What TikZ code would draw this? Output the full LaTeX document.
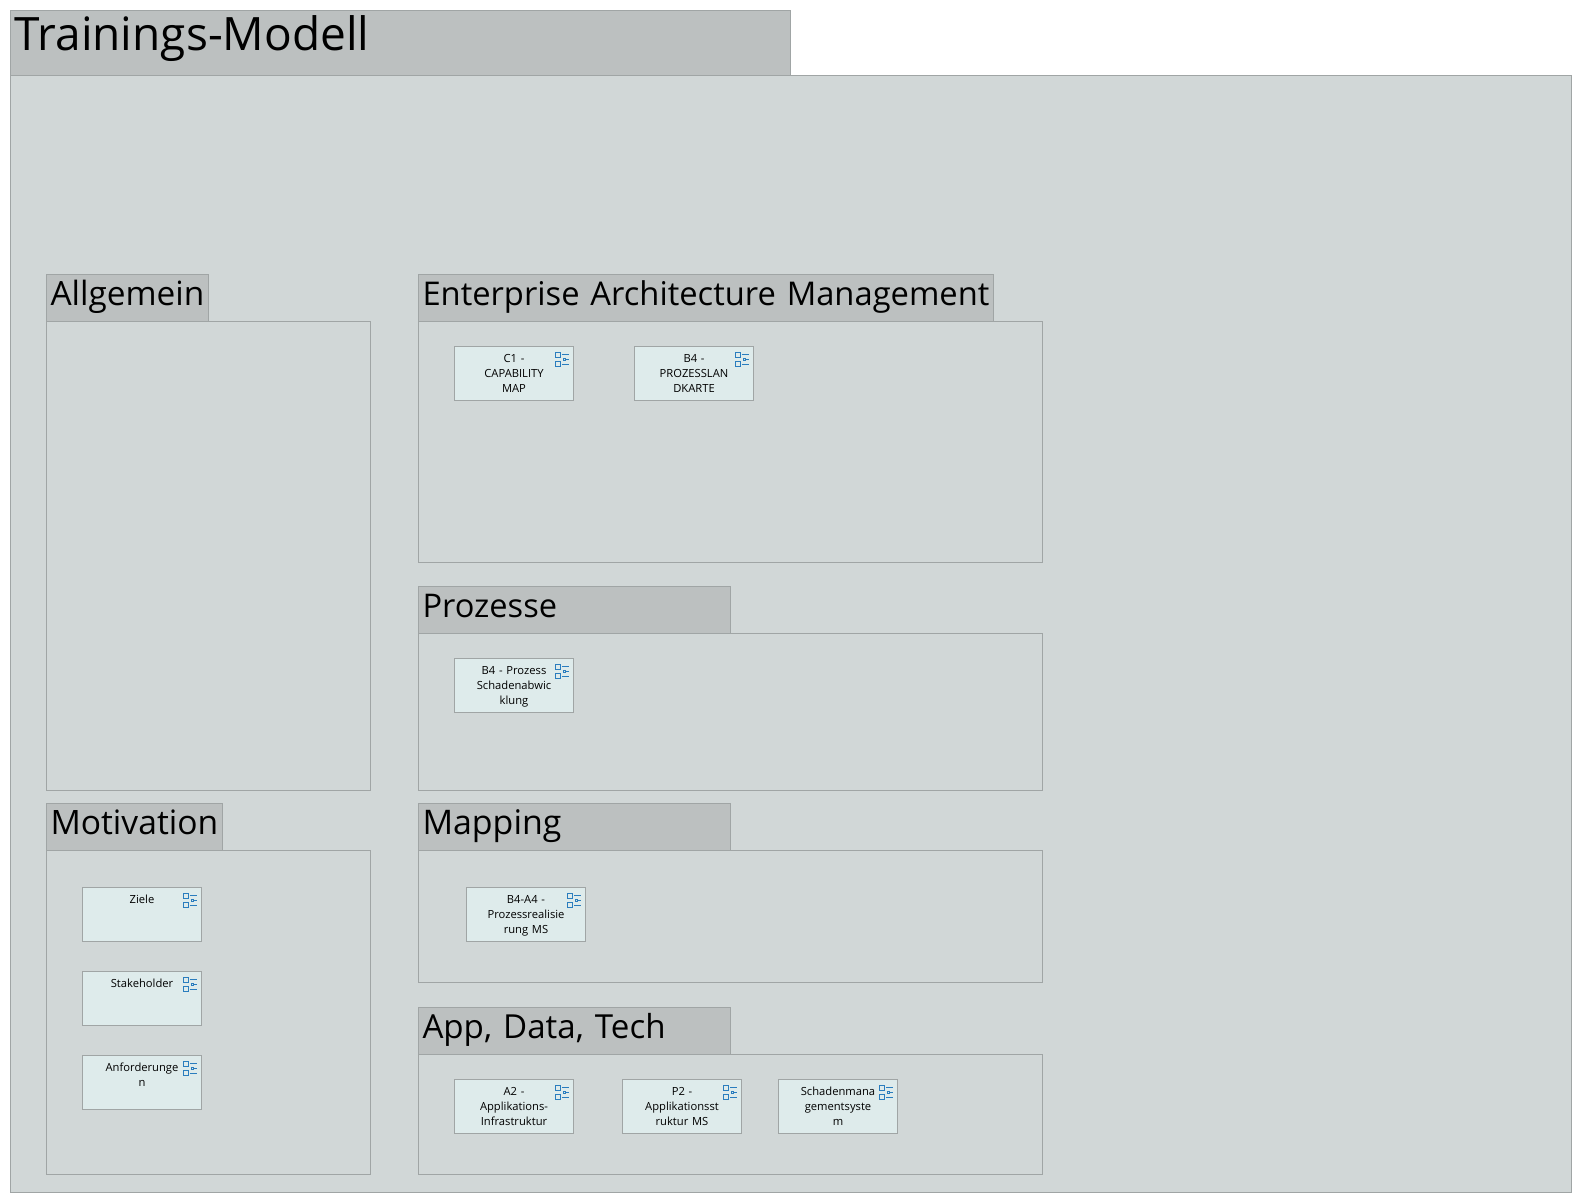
\documentclass[tikz,border=0pt]{standalone}
\usepackage{fontspec}
\setmainfont{Open Sans}
\definecolor{tabgrey}{HTML}{BCC0C0}
\definecolor{bodygrey}{HTML}{D1D7D7}
\definecolor{cardfill}{HTML}{DEEBEB}
\definecolor{edgegrey}{HTML}{A0A5A5}
\definecolor{iconblue}{HTML}{2A7DBE}
\newcommand{\titlefont}{\fontsize{46}{50}\selectfont}
\newcommand{\cardfont}{\fontsize{11.2}{15}\selectfont}
\tikzset{
  panel/.style={draw=edgegrey,line width=1pt,fill=bodygrey,anchor=north west,inner sep=0pt,outer sep=0pt},
  bodybox/.style 2 args={panel,minimum width=#1,minimum height=#2},
  tabsize/.style={font=\fontsize{#1}{38}\selectfont},
  tabbox/.style={panel,fill=tabgrey,inner xsep=4pt,inner ysep=0pt,align=left,text height=31pt,text depth=15.5pt,minimum height=46.5pt},
  tallertab/.style={text depth=16.5pt,minimum height=47.5pt},
  titlebox/.style={tabbox,font=\titlefont,text height=39.5pt,text depth=25pt,minimum height=64.5pt},
  card/.style={panel,fill=cardfill,minimum width=119pt,minimum height=54pt,text width=119pt,align=center,font=\cardfont,text height=16pt,text depth=38pt},
  icon/.pic={
    \begin{scope}[draw=iconblue,line width=0.9pt]
      \draw (-18,6) rectangle (-13,11);
      \draw (-18,15) rectangle (-13,20);
      \draw (-11.5,8) -- (-4.3,8);
      \draw (-10,12) rectangle (-7.8,14);
      \draw (-7.8,13) -- (-4.3,13);
      \draw (-11.5,18) -- (-4.3,18);
    \end{scope}
  }
}
\begin{document}
\begin{tikzpicture}[x=1pt,y=-1pt]
\useasboundingbox (0,0) rectangle (1582,1203);
\fill[white] (0,0) rectangle (1582,1203);
% outer frame
\node[bodybox={1560.5pt}{1117.5pt}] (main) at (10.5,75) {};
\node[titlebox,text width=771.5pt] (title) at (10.5,10.5) {\mbox{Trainings-Modell}};
% groups
\node[bodybox={324pt}{469pt}] (allgBody) at (46.5,321) {};
\node[tabbox,tabsize=33.4,text width=153.5pt] (allgTab) at (46.5,274.5) {\mbox{Allgemein}};
\node[bodybox={624pt}{241pt}] (eamBody) at (418.5,321) {};
\node[tabbox,tabsize=32.7,text width=567pt] (eamTab) at (418.5,274.5) {\mbox{Enterprise Architecture Management}};
\node[bodybox={624pt}{156.5pt}] (prozBody) at (418.5,633.5) {};
\node[tabbox,tallertab,tabsize=32.6,text width=304pt] (prozTab) at (418.5,586) {\mbox{Prozesse}};
\node[bodybox={324pt}{323.5pt}] (motBody) at (46.5,850.5) {};
\node[tabbox,tallertab,tabsize=33.6,text width=168pt] (motTab) at (46.5,803) {\mbox{Motivation}};
\node[bodybox={624pt}{132pt}] (mapBody) at (418.5,850.5) {};
\node[tabbox,tallertab,tabsize=33.9,text width=304pt] (mapTab) at (418.5,803) {\mbox{Mapping}};
\node[bodybox={624pt}{120pt}] (appBody) at (418.5,1054) {};
\node[tabbox,tabsize=33.1,text width=304pt] (appTab) at (418.5,1007.5) {\mbox{App, Data, Tech}};
% cards
\node[card] (c1) at (454.5,346.5) {C1 -\\CAPABILITY\\MAP};
\node[card] (b4a) at (634.5,346.5) {B4 -\\PROZESSLAN\\DKARTE};
\node[card] (b4b) at (454.5,658.5) {B4 - Prozess\\Schadenabwic\\klung};
\node[card] (ziele) at (82.5,887.5) {Ziele};
\node[card] (stake) at (82.5,971.5) {Stakeholder};
\node[card] (anf) at (82.5,1055.5) {Anforderunge\\n};
\node[card] (b4c) at (466.5,887.5) {B4-A4 -\\Prozessrealisie\\rung MS};
\node[card] (a2) at (454.5,1079.5) {A2 -\\Applikations-\\Infrastruktur};
\node[card] (p2) at (622.5,1079.5) {P2 -\\Applikationsst\\ruktur MS};
\node[card] (sch) at (778.5,1079.5) {Schadenmana\\gementsyste\\m};
\foreach \n in {c1,b4a,b4b,ziele,stake,anf,b4c,a2,p2,sch}
  \pic at (\n.north east) {icon};
\end{tikzpicture}
\end{document}
